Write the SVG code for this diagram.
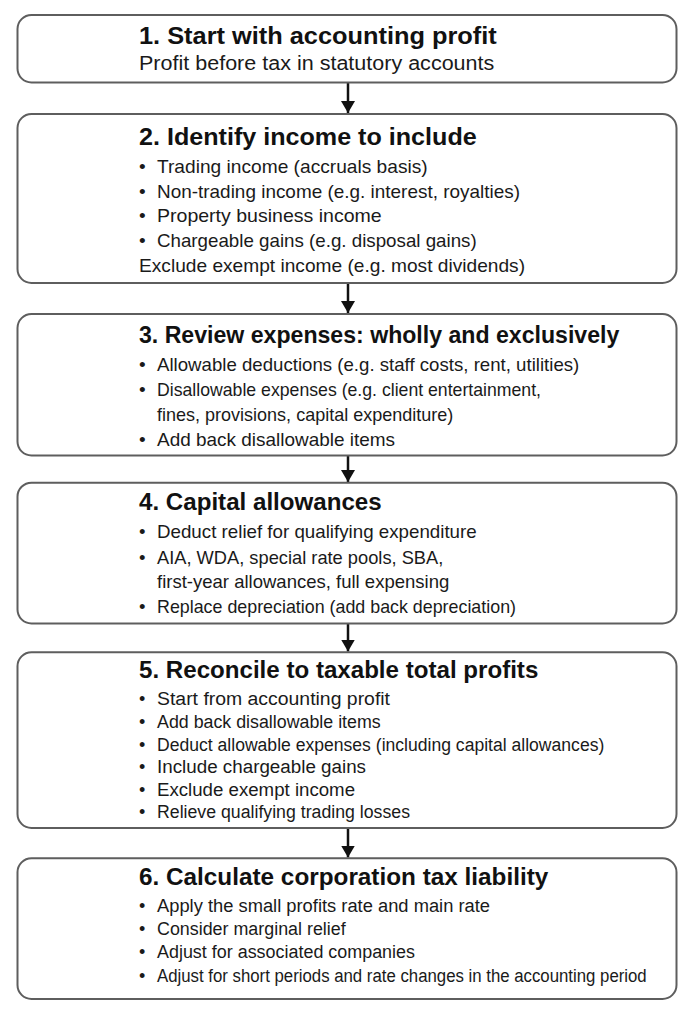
<svg xmlns="http://www.w3.org/2000/svg" width="694" height="1016" viewBox="0 0 694 1016">
<style>
.box{fill:#ffffff;stroke:#5e5e5e;stroke-width:2}
.t{font-family:"Liberation Sans",Arial,Helvetica,sans-serif;font-weight:bold;font-size:24px;fill:#111111}
.b{font-family:"Liberation Sans",Arial,Helvetica,sans-serif;font-size:19px;fill:#1a1a1a}
.b4{font-size:18.5px}
.b5{font-size:18px}
.conn{stroke:#111111;stroke-width:2.5;fill:none}
</style>
<defs>
<marker id="ah" markerUnits="userSpaceOnUse" markerWidth="13" markerHeight="15" refX="12" refY="7" orient="auto">
<path d="M0,0 L12,7 L0,14 z" fill="#111111"/>
</marker>
</defs>
<rect width="694" height="1016" fill="#ffffff"/>
<g id="connectors">
<line class="conn" x1="348" y1="83" x2="348" y2="113" marker-end="url(#ah)"/>
<line class="conn" x1="348" y1="284" x2="348" y2="313" marker-end="url(#ah)"/>
<line class="conn" x1="348" y1="456" x2="348" y2="482" marker-end="url(#ah)"/>
<line class="conn" x1="348" y1="624" x2="348" y2="651.5" marker-end="url(#ah)"/>
<line class="conn" x1="348" y1="829" x2="348" y2="857.5" marker-end="url(#ah)"/>
</g>
<g id="step1">
<rect class="box" x="17.5" y="15" width="659" height="67.5" rx="14"/>
<text class="t" x="139" y="43.5" textLength="357.7" lengthAdjust="spacingAndGlyphs">1. Start with accounting profit</text>
<text class="b" x="139" y="70" style="font-size:20px" textLength="355.3" lengthAdjust="spacingAndGlyphs">Profit before tax in statutory accounts</text>
</g>
<g id="step2">
<rect class="box" x="17.5" y="114" width="659" height="169" rx="14"/>
<text class="t" x="139" y="145" textLength="337.7" lengthAdjust="spacingAndGlyphs">2. Identify income to include</text>
<text class="b" x="139" y="172.7">•</text>
<text class="b" x="157" y="172.7" textLength="270.7" lengthAdjust="spacingAndGlyphs">Trading income (accruals basis)</text>
<text class="b" x="139" y="197.5">•</text>
<text class="b" x="157" y="197.5" textLength="363" lengthAdjust="spacingAndGlyphs">Non-trading income (e.g. interest, royalties)</text>
<text class="b" x="139" y="222.3">•</text>
<text class="b" x="157" y="222.3" textLength="224.7" lengthAdjust="spacingAndGlyphs">Property business income</text>
<text class="b" x="139" y="247">•</text>
<text class="b" x="157" y="247" textLength="319.7" lengthAdjust="spacingAndGlyphs">Chargeable gains (e.g. disposal gains)</text>
<text class="b" x="139" y="272" textLength="386" lengthAdjust="spacingAndGlyphs">Exclude exempt income (e.g. most dividends)</text>
</g>
<g id="step3">
<rect class="box" x="17.5" y="314" width="659" height="141.5" rx="14"/>
<text class="t" x="139" y="342.7" textLength="480.3" lengthAdjust="spacingAndGlyphs">3. Review expenses: wholly and exclusively</text>
<text class="b" x="139" y="371">•</text>
<text class="b" x="157" y="371" textLength="422.3" lengthAdjust="spacingAndGlyphs">Allowable deductions (e.g. staff costs, rent, utilities)</text>
<text class="b" x="139" y="396.3">•</text>
<text class="b" x="157" y="396.3" textLength="384" lengthAdjust="spacingAndGlyphs">Disallowable expenses (e.g. client entertainment,</text>
<text class="b" x="157" y="420.8" textLength="296.3" lengthAdjust="spacingAndGlyphs">fines, provisions, capital expenditure)</text>
<text class="b" x="139" y="446">•</text>
<text class="b" x="157" y="446" textLength="238" lengthAdjust="spacingAndGlyphs">Add back disallowable items</text>
</g>
<g id="step4">
<rect class="box" x="17.5" y="482.7" width="659" height="140.8" rx="14"/>
<text class="t" x="139" y="510" textLength="242.7" lengthAdjust="spacingAndGlyphs">4. Capital allowances</text>
<text class="b b4" x="139" y="538.4">•</text>
<text class="b b4" x="157" y="538.4" textLength="319.7" lengthAdjust="spacingAndGlyphs">Deduct relief for qualifying expenditure</text>
<text class="b b4" x="139" y="563.8">•</text>
<text class="b b4" x="157" y="563.8" textLength="286.3" lengthAdjust="spacingAndGlyphs">AIA, WDA, special rate pools, SBA,</text>
<text class="b b4" x="157" y="588.3" textLength="292.3" lengthAdjust="spacingAndGlyphs">first-year allowances, full expensing</text>
<text class="b b4" x="139" y="612.7">•</text>
<text class="b b4" x="157" y="612.7" textLength="359" lengthAdjust="spacingAndGlyphs">Replace depreciation (add back depreciation)</text>
</g>
<g id="step5">
<rect class="box" x="17.5" y="652.3" width="659" height="175.7" rx="14"/>
<text class="t" x="139" y="678.3" textLength="399.3" lengthAdjust="spacingAndGlyphs">5. Reconcile to taxable total profits</text>
<text class="b b5" x="139" y="705">•</text>
<text class="b b5" x="157" y="705" textLength="233" lengthAdjust="spacingAndGlyphs">Start from accounting profit</text>
<text class="b b5" x="139" y="728">•</text>
<text class="b b5" x="157" y="728" textLength="223.7" lengthAdjust="spacingAndGlyphs">Add back disallowable items</text>
<text class="b b5" x="139" y="750.6">•</text>
<text class="b b5" x="157" y="750.6" textLength="447.3" lengthAdjust="spacingAndGlyphs">Deduct allowable expenses (including capital allowances)</text>
<text class="b b5" x="139" y="773.2">•</text>
<text class="b b5" x="157" y="773.2" textLength="209" lengthAdjust="spacingAndGlyphs">Include chargeable gains</text>
<text class="b b5" x="139" y="795.6">•</text>
<text class="b b5" x="157" y="795.6" textLength="198" lengthAdjust="spacingAndGlyphs">Exclude exempt income</text>
<text class="b b5" x="139" y="818">•</text>
<text class="b b5" x="157" y="818" textLength="253" lengthAdjust="spacingAndGlyphs">Relieve qualifying trading losses</text>
</g>
<g id="step6">
<rect class="box" x="17.5" y="858.3" width="659" height="140.7" rx="14"/>
<text class="t" x="139" y="885" textLength="409.3" lengthAdjust="spacingAndGlyphs">6. Calculate corporation tax liability</text>
<text class="b b5" x="139" y="911.7">•</text>
<text class="b b5" x="157" y="911.7" textLength="333" lengthAdjust="spacingAndGlyphs">Apply the small profits rate and main rate</text>
<text class="b b5" x="139" y="935">•</text>
<text class="b b5" x="157" y="935" textLength="188.7" lengthAdjust="spacingAndGlyphs">Consider marginal relief</text>
<text class="b b5" x="139" y="958.3">•</text>
<text class="b b5" x="157" y="958.3" textLength="258" lengthAdjust="spacingAndGlyphs">Adjust for associated companies</text>
<text class="b b5" x="139" y="981.7">•</text>
<text class="b b5" x="157" y="981.7" textLength="489.7" lengthAdjust="spacingAndGlyphs">Adjust for short periods and rate changes in the accounting period</text>
</g>
</svg>
